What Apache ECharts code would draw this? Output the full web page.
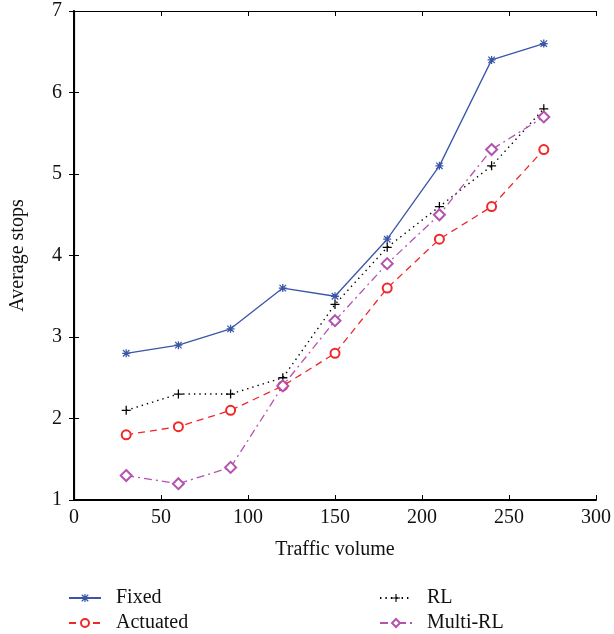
<!DOCTYPE html>
<html>
<head>
<meta charset="utf-8">
<script src="https://cdn.jsdelivr.net/npm/echarts@6/dist/echarts.min.js"></script>
<style>
  html, body { margin: 0; padding: 0; background: #fff; }
  #chart { width: 614px; height: 634px; }
</style>
</head>
<body>
<div id="chart"></div>
<script>
// traffic volume on the x axis
var volumes = [30, 60, 90, 120, 150, 180, 210, 240, 270]
// average stops per method
var fixedStops = [2.8, 2.9, 3.1, 3.6, 3.5, 4.2, 5.1, 6.4, 6.6]
var actuatedStops = [1.8, 1.9, 2.1, 2.4, 2.8, 3.6, 4.2, 4.6, 5.3]
var rlStops = [2.1, 2.3, 2.3, 2.5, 3.4, 4.1, 4.6, 5.1, 5.8]
var multiRlStops = [1.3, 1.2, 1.4, 2.4, 3.2, 3.9, 4.5, 5.3, 5.7]

var font = '"Liberation Serif", "Times New Roman", serif'
var fs = 20
var plusPath = 'path://M4.3,0H5.7V4.3H10V5.7H5.7V10H4.3V5.7H0V4.3H4.3Z'
var starPath = 'path://M4.2,0H5.8V4.2H10V5.8H5.8V10H4.2V5.8H0V4.2H4.2Z' +
  'M1.5,0.4L5,3.9L8.5,0.4L9.6,1.5L6.1,5L9.6,8.5L8.5,9.6L5,6.1L1.5,9.6L0.4,8.5L3.9,5L0.4,1.5Z'

function pairs (ys) {
  return volumes.map(function (x, i) { return [x, ys[i]] })
}

var chart = echarts.init(document.getElementById('chart'))
function axisStyle (w) {
  return {
    axisLine: { show: true, lineStyle: { color: '#000', width: w } },
    axisTick: { show: true, inside: true, length: 5, lineStyle: { color: '#000', width: 1 } },
    splitLine: { show: false }
  }
}

chart.setOption({
  animation: false,
  textStyle: { fontFamily: font },
  grid: { left: 70, right: 15, top: 11, bottom: 134 },
  xAxis: [
    Object.assign({
      type: 'value', min: 0, max: 300, interval: 50,
      name: 'Traffic volume', nameLocation: 'middle', nameGap: 40,
      nameTextStyle: { fontFamily: font, fontSize: fs, color: '#111' },
      axisLabel: { fontFamily: font, fontSize: fs, color: '#111', margin: 8 }
    }, axisStyle(2)),
    Object.assign({
      type: 'value', min: 0, max: 300, interval: 50, position: 'top',
      axisLabel: { show: false }
    }, axisStyle(1.2))
  ],
  yAxis: [
    Object.assign({
      type: 'value', min: 1, max: 7, interval: 1,
      name: 'Average stops', nameLocation: 'middle', nameGap: 46,
      nameTextStyle: { fontFamily: font, fontSize: fs, color: '#111' },
      axisLabel: { fontFamily: font, fontSize: fs, color: '#111', margin: 12 }
    }, axisStyle(2)),
    Object.assign({
      type: 'value', min: 1, max: 7, interval: 1, position: 'right',
      axisLabel: { show: false }
    }, axisStyle(1.2))
  ],
  legend: [
    {
      data: ['Fixed', 'Actuated'],
      orient: 'vertical', left: 68, top: 588, itemGap: 5, padding: 0,
      itemWidth: 32, itemHeight: 10,
      textStyle: { fontFamily: font, fontSize: fs, color: '#111', padding: [0, 0, 0, 10] }
    },
    {
      data: ['RL', 'Multi-RL'],
      orient: 'vertical', left: 379, top: 588, itemGap: 5, padding: 0,
      itemWidth: 32, itemHeight: 10,
      textStyle: { fontFamily: font, fontSize: fs, color: '#111', padding: [0, 0, 0, 10] }
    }
  ],
  series: [
    {
      name: 'Fixed', type: 'line', data: pairs(fixedStops),
      symbol: starPath, symbolSize: 8,
      itemStyle: { color: '#3a56a8' },
      lineStyle: { color: '#3a56a8', width: 1.3, type: 'solid' }
    },
    {
      name: 'Actuated', type: 'line', data: pairs(actuatedStops),
      symbol: 'emptyCircle', symbolSize: 9,
      itemStyle: { color: '#f0282a', borderWidth: 1.2 },
      lineStyle: { color: '#f0282a', width: 1.3, type: [7, 5] }
    },
    {
      name: 'RL', type: 'line', data: pairs(rlStops),
      symbol: plusPath, symbolSize: 9,
      itemStyle: { color: '#000' },
      lineStyle: { color: '#000', width: 1.4, type: [1.4, 4] }
    },
    {
      name: 'Multi-RL', type: 'line', data: pairs(multiRlStops),
      symbol: 'emptyDiamond', symbolSize: 11,
      itemStyle: { color: '#b452b0', borderWidth: 1.2 },
      lineStyle: { color: '#b452b0', width: 1.3, type: [8, 4, 2, 4] }
    }
  ]
})
</script>
</body>
</html>
